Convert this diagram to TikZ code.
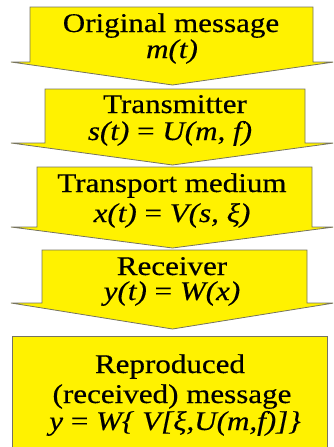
\documentclass[tikz,border=0pt]{standalone}
\usepackage{fontspec}
\setmainfont{Liberation Serif}
\newfontfamily\stretchfont[FakeStretch=1.15,FakeBold=0.4]{Liberation Serif}
\begin{document}
\begin{tikzpicture}[x=1pt,y=-1pt,
  flow/.style={fill=yellow, draw=black!70!yellow!60!gray, line width=0.8pt, line join=miter},
  txt/.style={anchor=base, inner sep=0pt, font=\stretchfont\fontsize{27}{29}\selectfont},
  mth/.style={anchor=base, inner sep=0pt, font=\stretchfont\fontsize{27}{29}\selectfont\itshape}]
\useasboundingbox (0,0) rectangle (333,447);
\clip (0,0) rectangle (333,447);
% arrow 1
\draw[flow] (30,7) -- (313,7) -- (313,62) -- (334,62) -- (172.5,85) -- (11,62) -- (30,62) -- cycle;
% arrow 2
\draw[flow] (45,89) -- (305,89) -- (305,143) -- (334,143) -- (172.5,165) -- (11,143) -- (45,143) -- cycle;
% arrow 3
\draw[flow] (37,167) -- (312,167) -- (312,227) -- (334,227) -- (172.5,248) -- (11,227) -- (37,227) -- cycle;
% arrow 4
\draw[flow] (42,250) -- (307,250) -- (307,303) -- (334,303) -- (172.5,329) -- (11,303) -- (42,303) -- cycle;
% final box
\draw[flow] (12,336) rectangle (327,452);
% texts
\node[txt] (t1a) at (171,32) {Original message};
\node[mth] (t1b) at (172,58) {m(t)};
\node[txt] (t2a) at (175,113) {Transmitter};
\node[mth] (t2b) at (170,140) {s(t) {\upshape=} U(m, f)};
\node[txt] (t3a) at (172,192) {Transport medium};
\node[mth] (t3b) at (172,222) {x(t) {\upshape=} V(s, ξ)};
\node[txt] (t4a) at (172,275) {Receiver};
\node[mth] (t4b) at (172,300) {y(t) {\upshape=} W(x)};
\node[txt] (t5a) at (170,373) {Reproduced};
\node[txt] (t5b) at (172,403) {(received) message};
\node[mth] (t5c) at (175,430) {y {\upshape=} W\{ V[ξ,U(m,f)]\}};
\end{tikzpicture}
\end{document}
